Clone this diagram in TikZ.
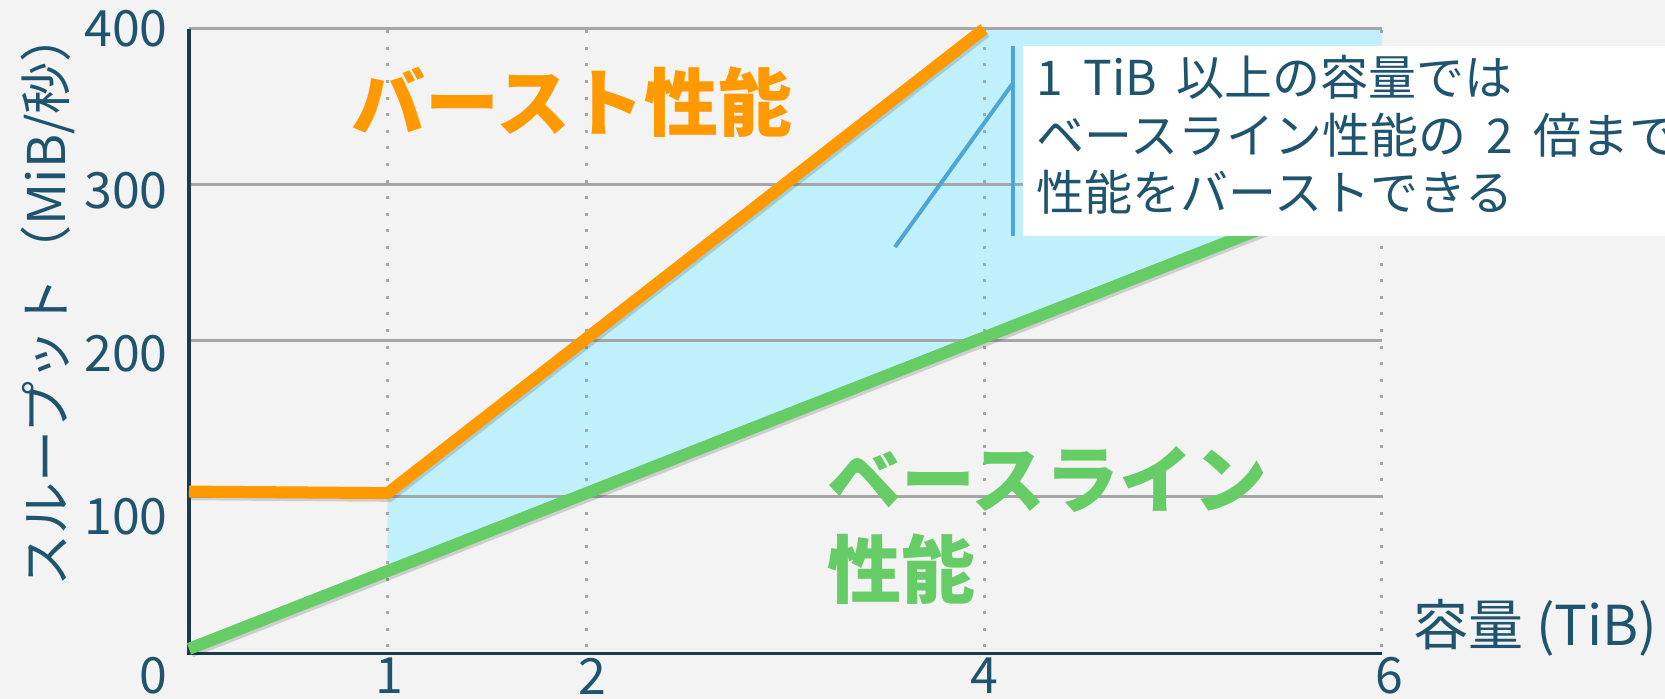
\documentclass[tikz,border=0pt]{standalone}
\usepackage{fontspec}
\setmainfont{Noto Sans CJK JP}
\definecolor{bg}{RGB}{242,243,242}
\definecolor{ink}{RGB}{31,84,110}
\definecolor{axisink}{RGB}{24,60,78}
\definecolor{gridgray}{RGB}{166,166,166}
\definecolor{burst}{RGB}{255,153,0}
\definecolor{basegreen}{RGB}{102,204,102}
\definecolor{area}{RGB}{192,240,252}
\definecolor{callout}{RGB}{77,166,214}
\newcommand\wide{\hspace{0.42em}}

\begin{document}
\begin{tikzpicture}[x=99.375pt, y=0.77875pt,
            every node/.style = {text=ink, inner sep=0pt, font=\fontsize{25pt}{30pt}\selectfont},
            grid line/.style = {draw=gridgray, line width=1.5pt},
            dot line/.style = {draw=gridgray, line width=1.5pt, dash pattern=on 1.5pt off 6.8pt},
            axis line/.style = {draw=axisink, line width=1.8pt},
            shade line/.style = {draw=black, opacity=0.15, line width=5.5pt, shift={(1pt,-1.6pt)}},
            plot line/.style = {line width=6pt},
            callout line/.style = {draw=callout, line width=2pt},
            big label/.style = {font=\fontsize{37pt}{45pt}\selectfont\bfseries},
            note/.style = {align=left, font=\fontsize{24pt}{28.75pt}\selectfont}]
    \useasboundingbox[fill=bg] (-0.9509,-30.177) rectangle (7.4264,418.62);
    \fill[area] (1,102) -- (4,400) -- (6,400) -- (6,302) -- (1,52) -- cycle;
    \foreach \y in {100,200,300,400}
        \draw[grid line] (0,\y) -- (6,\y);
    \foreach \x in {1,2,4,6}
        \draw[dot line] (\x,3) -- (\x,400);
    \draw[axis line] (0,400) -- (0,-1) -- (6,-1);
    \draw[shade line] (0,2) -- (6,302);
    \draw[shade line] (0,103) -- (1,102) -- (4,400);
    \draw[plot line, basegreen] (0,2) -- (6,302);
    \draw[plot line, burst] (0,103) -- (1,102) -- (4,400);
    \foreach \v/\y in {400/400, 300/296, 200/191.3, 100/86.7, 0/-15.5}
        \node (y\v) [anchor=east] at (-0.106,\y) {\v};
    \foreach \v/\x in {1/1.01, 2/2.03, 4/4.0, 6/6.04}
        \node (x\v) at (\x,-15.5) {\v};
    \node (ytitle) [rotate=90, font=\fontsize{26pt}{30pt}\selectfont] at (-0.709,227) {スループット（MiB/秒）};
    \node (xtitle) [font=\fontsize{27.5pt}{30pt}\selectfont] at (6.775,15.4) {容量 (TiB)};
    \node (burstlabel) [big label, text=burst] at (1.927,353.1) {バースト性能};
    \node (baselabel) [big label, text=basegreen, align=left, anchor=west] at (3.21,81.5) {ベースライン\\性能};
    \node (notebox) [fill=white, anchor=south west, minimum width=330pt, minimum height=95pt] at (4.196,267.1) {};
    \coordinate (bartop) at (4.146,389.1);
    \coordinate (barbottom) at (4.146,267.1);
    \coordinate (hook) at (4.146,365.3);
    \coordinate (tip) at (3.552,260);
    \draw[callout line, line width=2.4pt] (bartop) -- (barbottom);
    \draw[callout line] (hook) -- (tip);
    \node (notetext) [note, anchor=west] at (4.262,332) {1\wide TiB\wide 以上の容量では\\ベースライン性能の\wide 2\wide 倍まで\\性能をバーストできる};
\end{tikzpicture}
\end{document}
